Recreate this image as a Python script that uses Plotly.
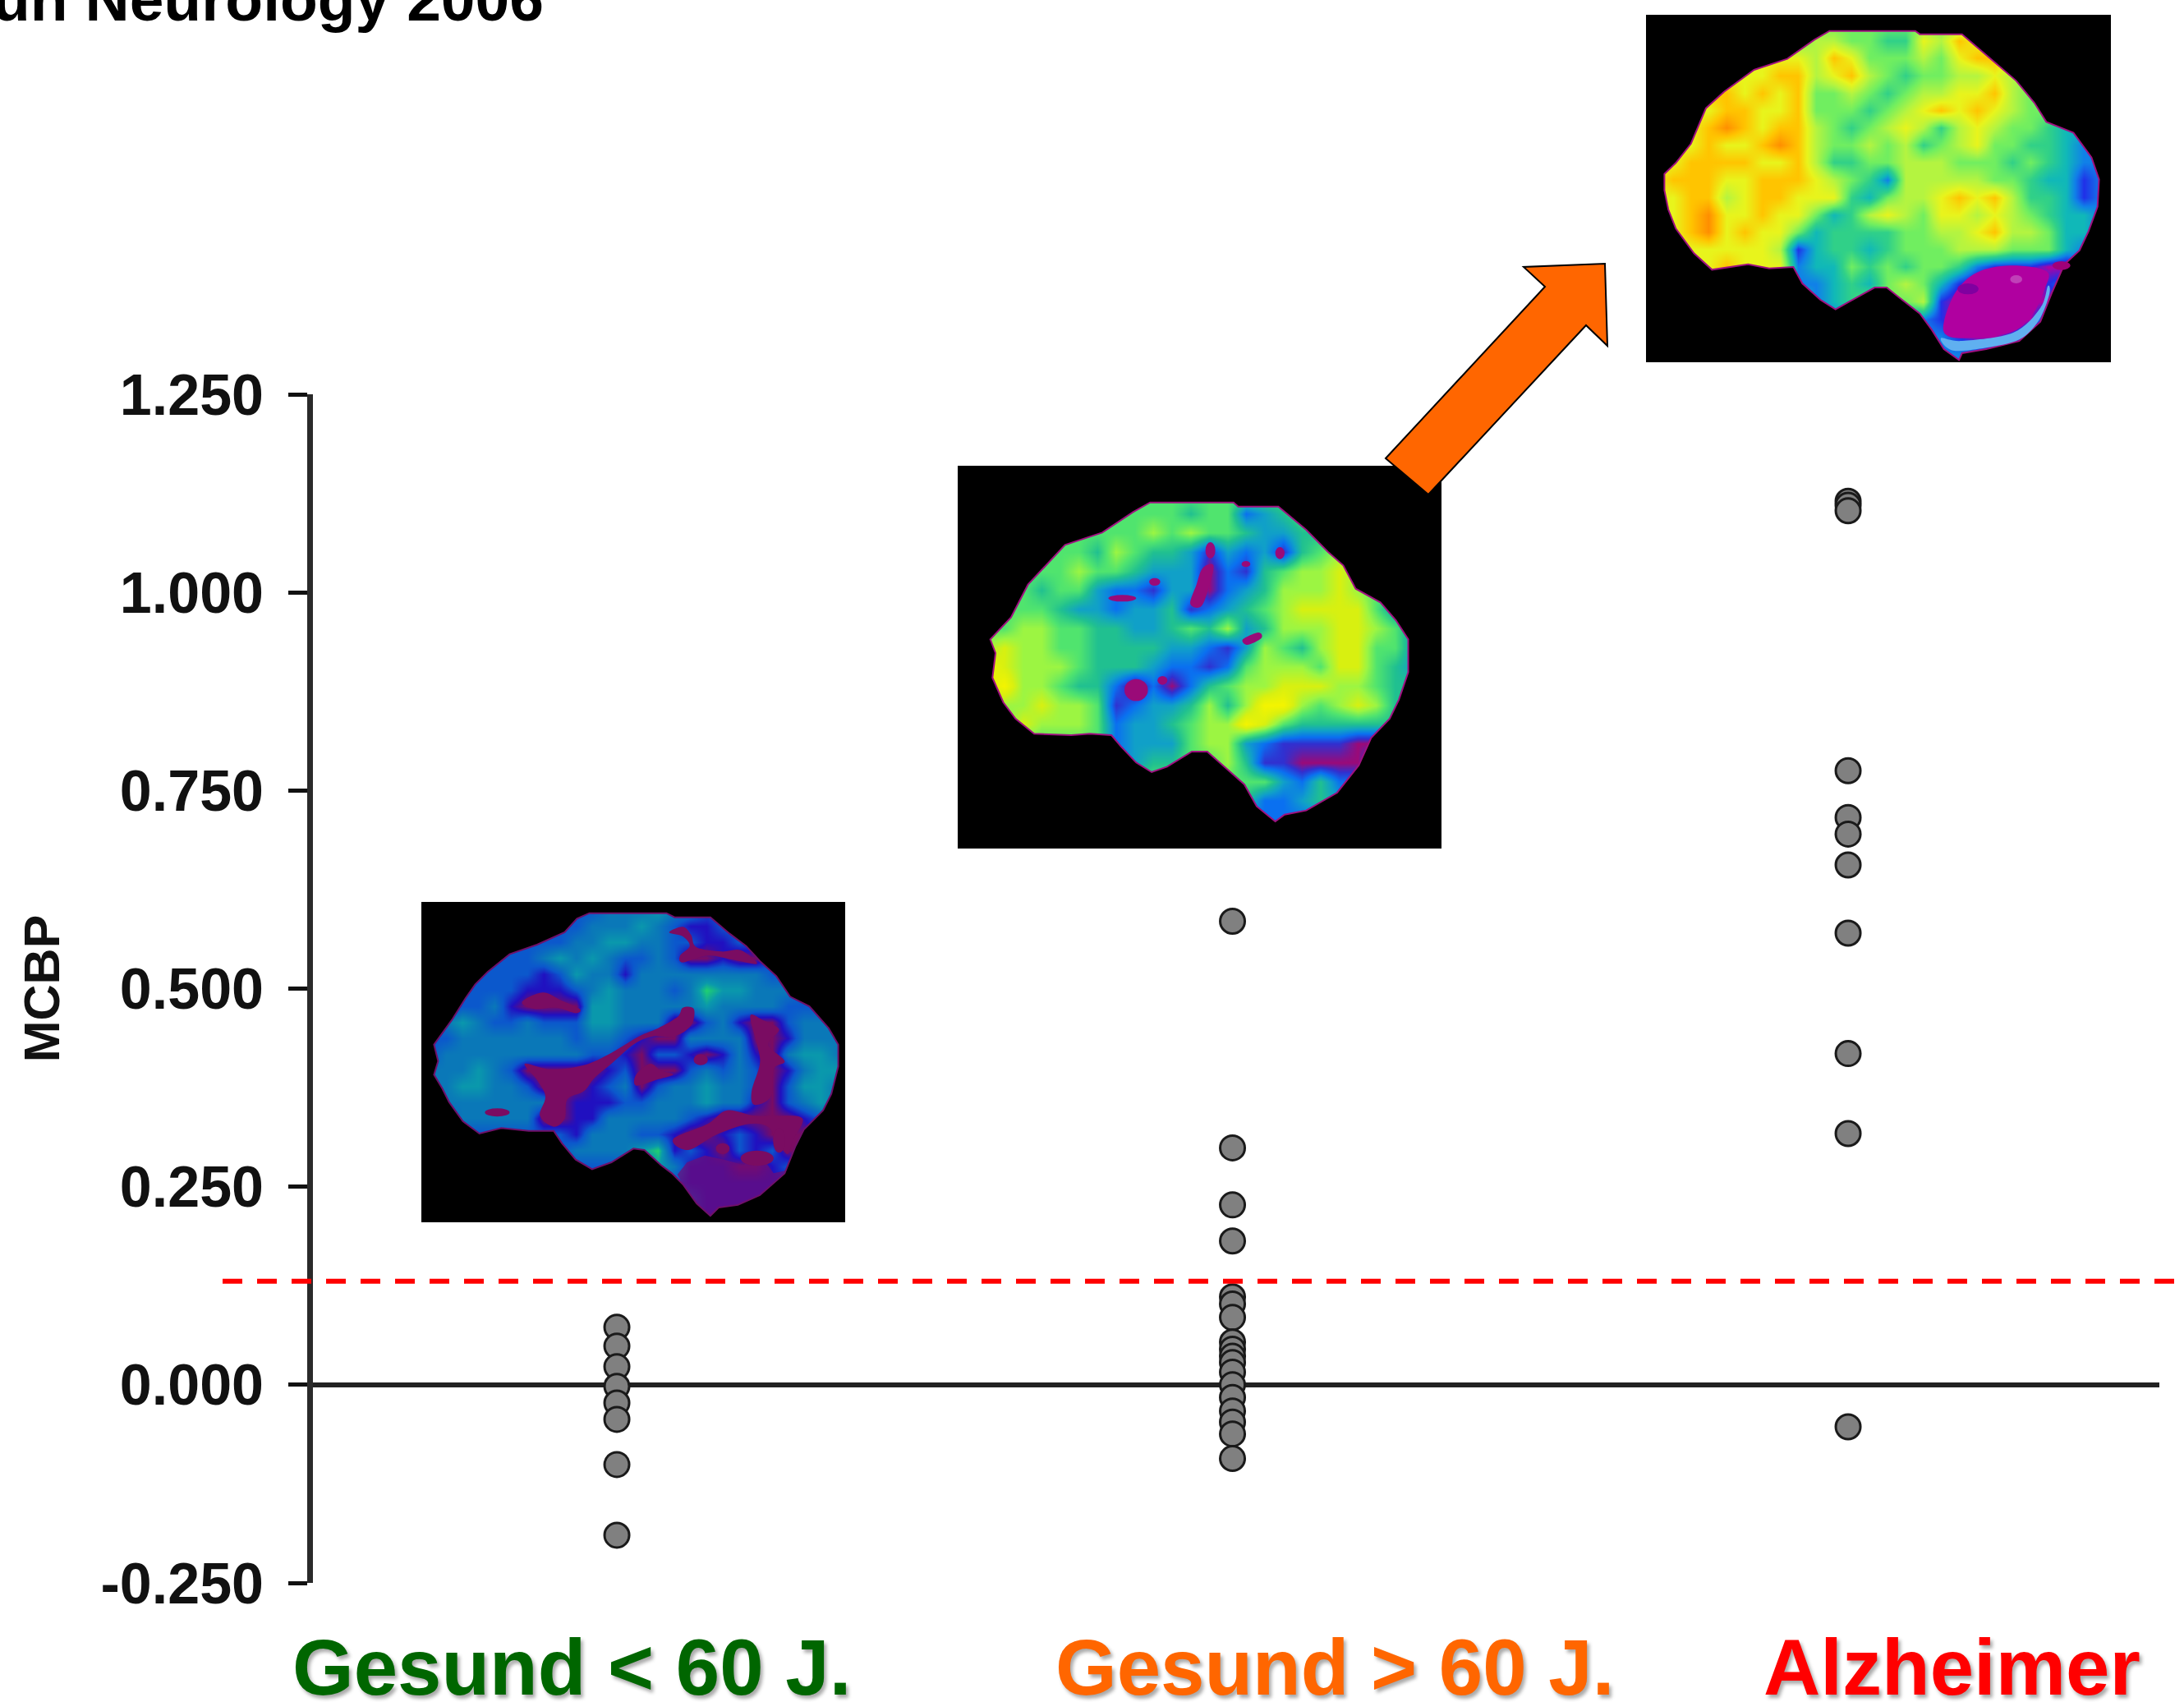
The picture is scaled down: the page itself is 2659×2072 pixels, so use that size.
import plotly.graph_objects as go

# ---------- data ----------
categories = ["Gesund < 60 J.", "Gesund > 60 J.", "Alzheimer"]
category_labels = ["Gesund &lt; 60 J.", "Gesund &gt; 60 J.", "Alzheimer"]
category_colors = ["#006600", "#FF6600", "#FF0000"]

young_values = [0.0726, 0.0487, 0.0228, -0.002, -0.023, -0.0436, -0.1006, -0.1898]
old_values = [0.585, 0.299, 0.227, 0.1815, 0.111, 0.102, 0.085, 0.054, 0.045, 0.036, 0.028,
              0.016, 0.0, -0.016, -0.033, -0.047, -0.062, -0.093]
alz_values = [1.115, 1.11, 1.103, 0.775, 0.716, 0.695, 0.656, 0.57, 0.418, 0.317, -0.053]

tick_values = [-0.25, 0.0, 0.25, 0.5, 0.75, 1.0, 1.25]
tick_labels = ["-0.250", "0.000", "0.250", "0.500", "0.750", "1.000", "1.250"]
cutoff = 0.1307

# PET brain pictures, read cell by cell as colour levels (one digit per cell)
young_brain_levels = [
    "22222 22222 23334 33222 222222", "22222 22222 33343 21122 222222", "22222 22223 34433 22112 222222",
    "22222 22343 43223 20010 022222", "22222 22124 33133 33333 322222", "23222 21112 34333 23544 333222",
    "21223 10000 44333 33433 332222", "23432 23222 44333 00231 002333", "22333 33332 33210 03333 001333",
    "23333 33333 22102 21013 103443", "33343 20000 01200 02323 201344", "33443 32000 12302 33433 202443",
    "23333 33301 11223 33433 102343", "22333 33001 13333 32100 000122", "22222 22221 33322 10012 100022",
    "22222 22223 33345 12102 120022", "22222 22222 22224 31110 012222", "22222 22222 22222 21111 111222",
    "22222 22222 22222 22111 111222", "22222 22222 22222 22111 111222",
]
old_brain_levels = [
    "55555 55555 55555 55555 555555", "55555 55555 55555 55555 555555", "55555 55555 55455 23455 555555",
    "55555 55555 65655 43344 555555", "55555 55465 44313 23145 655555", "55555 56554 33302 14566 765555",
    "55554 55322 13302 34666 765555", "55555 43323 34123 45677 775333", "55566 55443 34546 34666 776533",
    "56766 55444 43321 36546 775533", "58766 65444 32212 56665 775433", "57866 54420 20245 66777 665443",
    "55667 66512 33464 68865 676444", "55576 66523 34566 87544 444455", "55555 55523 33566 32111 100055",
    "55555 55523 44556 41100 003555", "55555 55555 55555 55324 225555", "55555 55555 55555 42234 355555",
    "22222 22222 22222 22222 222222", "22222 22222 22222 22222 222222",
]
alz_brain_levels = [
    "55555 55555 55555 55555 555555", "55555 55556 65544 76877 555555", "77777 77776 87555 65788 755555",
    "77777 77886 78654 55667 655555", "77788 78785 56545 66778 655555", "77778 87785 55456 78787 655555",
    "77789 87886 54567 64676 554333", "77787 78986 55656 45675 544322", "77888 87786 44556 66555 454322",
    "78887 78887 65426 66665 543312", "77886 78877 74356 67878 644312", "77897 78775 34676 57767 654332",
    "77897 87753 44445 56678 665332", "77777 77613 44345 55666 555322", "77778 77723 35454 55421 110022",
    "77777 77722 34356 53100 001222", "55555 55552 34555 61000 000322", "22222 22222 22222 21000 003222",
    "22222 22222 22222 22100 122222", "22222 22222 22222 22222 222222",
]
young_palette = ["#7A0C62", "#2010C0", "#0B58CC", "#0A78B8", "#0A98AC", "#20D070"]
old_palette = ["#9A0A78", "#3030D0", "#0A70F0", "#10A0C8", "#20C090", "#50E46E", "#9CF542", "#D8F010", "#F4F400"]
alz_palette = ["#B000A0", "#2030E8", "#1080E8", "#10B8B8", "#30D088", "#70EE60", "#B4F440", "#E8F41C", "#FFC400", "#FF8E00"]

# ---------- page geometry ----------
W, H = 2659, 2072
L, R, T, B = 381, 2629, 480, 1927


def px(x):
    return x / W


def py(y):
    return 1 - y / H


shapes = []


def add_path(path, fill, line=None, lw=0):
    shapes.append(dict(type="path", xref="paper", yref="paper", path=path, fillcolor=fill,
                       line=dict(color=line or fill, width=lw), layer="above"))


def ring(points):
    return "M" + " L".join(f"{px(x):.5f},{py(y):.5f}" for x, y in points) + " Z"


def poly(points, fill, line=None, lw=0):
    add_path(ring(points), fill, line, lw)


def smooth(points, fill):
    n = len(points)
    p = f"M{px(points[0][0]):.5f},{py(points[0][1]):.5f}"
    for i in range(n):
        a, b, c, d = points[i - 1], points[i], points[(i + 1) % n], points[(i + 2) % n]
        c1 = (b[0] + (c[0] - a[0]) / 6, b[1] + (c[1] - a[1]) / 6)
        c2 = (c[0] - (d[0] - b[0]) / 6, c[1] - (d[1] - b[1]) / 6)
        p += (f" C{px(c1[0]):.5f},{py(c1[1]):.5f} {px(c2[0]):.5f},{py(c2[1]):.5f} "
              f"{px(c[0]):.5f},{py(c[1]):.5f}")
    add_path(p + " Z", fill)


def ell(cx, cy, rx, ry, fill):
    shapes.append(dict(type="circle", xref="paper", yref="paper", x0=px(cx - rx), x1=px(cx + rx),
                       y0=py(cy - ry), y1=py(cy + ry), fillcolor=fill, line=dict(width=0),
                       layer="above"))


class Brain:
    """Draws in the pixel space of a zoomed crop."""

    def __init__(self, ox, oy, sx, sy):
        self.ox, self.oy, self.sx, self.sy = ox, oy, sx, sy

    def t(self, pts):
        return [(self.ox + x / self.sx, self.oy + y / self.sy) for x, y in pts]

    def mask(self, box, pts, edge):
        x0, y0, x1, y1 = box
        outer = ring([(x0, y0), (x0, y1), (x1, y1), (x1, y0)])
        add_path(outer + " " + ring(self.t(pts)), "#000000")
        add_path(ring(self.t(pts)), "rgba(0,0,0,0)", edge, 2)

    def blob(self, pts, fill):
        smooth(self.t(pts), fill)

    def e(self, cx, cy, rx, ry, fill):
        ell(self.ox + cx / self.sx, self.oy + cy / self.sy, rx / self.sx, ry / self.sy, fill)


# ---------- red cut-off ----------
shapes.append(dict(type="line", xref="paper", yref="y", x0=px(271), x1=px(2659), y0=cutoff, y1=cutoff,
                   line=dict(color="#FF0000", width=6, dash="24px,18px"), layer="above"))

# ---------- brain 1 (young) ----------
b = Brain(510, 1095, 2.987, 3)
b.mask((513, 1098, 1029, 1488),
       [(55, 530), (120, 440), (170, 360), (205, 310), (250, 265), (330, 200), (430, 165), (530, 120),
        (575, 70), (620, 50), (900, 50), (930, 65), (1060, 65), (1130, 125), (1190, 170), (1240, 225),
        (1300, 280), (1350, 355), (1420, 390), (1490, 470), (1525, 530), (1525, 610), (1500, 710),
        (1470, 770), (1400, 840), (1370, 900), (1330, 1000), (1240, 1080), (1160, 1115), (1090, 1125),
        (1060, 1155), (1010, 1110), (960, 1040), (920, 1000), (880, 970), (820, 915), (780, 910),
        (700, 960), (630, 985), (570, 950), (520, 890), (490, 845), (400, 845), (300, 835), (220, 855),
        (160, 810), (110, 740), (85, 690), (55, 640), (70, 590)], "#70106A")
MA = "#7A0C62"
b.blob([(375, 375), (450, 340), (520, 370), (585, 400), (570, 415), (500, 395), (420, 400)], MA)
b.blob([(385, 600), (480, 620), (600, 605), (700, 560), (800, 500), (870, 470), (940, 430), (960, 395), (1000, 400),
        (990, 460), (930, 500), (850, 500), (780, 530), (700, 600), (640, 650), (600, 700), (540, 730), (530, 800),
        (490, 830), (440, 790), (460, 720), (430, 660)], MA)
b.blob([(790, 640), (840, 600), (880, 625), (925, 640), (860, 660), (790, 680)], MA)
b.e(1025, 585, 26, 20, MA)
b.blob([(910, 120), (960, 100), (990, 130), (1010, 175), (1100, 190), (1170, 185), (1230, 235), (1140, 220), (1050, 205),
        (960, 230), (950, 205), (985, 170), (960, 135)], MA)
b.blob([(1205, 425), (1250, 440), (1310, 475), (1270, 530), (1330, 590), (1290, 620), (1280, 720), (1220, 750), (1210, 700),
        (1240, 600), (1230, 530)], MA)
b.blob([(925, 875), (1050, 820), (1120, 770), (1220, 790), (1300, 790), (1395, 800), (1360, 880), (1340, 930), (1300, 880),
        (1270, 830), (1200, 820), (1080, 860), (980, 915)], MA)
poly(b.t([(940, 1005), (975, 960), (1040, 935), (1110, 950), (1180, 970), (1240, 930), (1290, 1000), (1335, 990),
          (1240, 1078), (1160, 1113), (1090, 1123), (1060, 1152), (1010, 1108), (960, 1040)]), "rgba(110,12,120,0.72)")
for args in [(1105, 910, 25, 20, MA), (1230, 945, 60, 28, MA), (1310, 880, 22, 45, MA), (285, 778, 45, 15, MA)]:
    b.e(*args)

# ---------- brain 2 (old) ----------
b = Brain(1165, 565, 2.657, 3)
b.mask((1166, 567, 1755, 1033),
       [(108, 640), (175, 560), (230, 440), (350, 295), (470, 250), (570, 175), (625, 140), (895, 140), (910, 155),
        (1040, 155), (1130, 240), (1200, 320), (1250, 370), (1290, 455), (1370, 505), (1420, 570), (1460, 640),
        (1460, 760), (1430, 860), (1400, 930), (1340, 1000), (1300, 1100), (1230, 1200), (1130, 1265), (1060, 1280),
        (1030, 1305), (970, 1250), (930, 1170), (870, 1110), (810, 1050), (760, 1050), (680, 1105), (630, 1125),
        (580, 1090), (530, 1030), (500, 990), (430, 985), (370, 990), (250, 985), (190, 930), (150, 870), (115, 780),
        (125, 690)], "#A01080")
MB = "#9A0A78"
for args in [(820, 315, 16, 30, MB), (535, 490, 45, 12, MB), (640, 430, 18, 14, MB), (1045, 325, 15, 22, MB), (935, 365, 14, 11, MB),
             (580, 825, 38, 40, MB), (665, 790, 16, 16, MB)]:
    b.e(*args)
b.blob([(795, 380), (830, 370), (815, 450), (790, 520), (755, 510), (775, 440)], MB)
b.blob([(925, 640), (975, 615), (985, 635), (940, 660)], MB)

# ---------- brain 3 (Alzheimer) ----------
b = Brain(2000, 15, 2.727, 3)
b.mask((2004, 18, 2570, 441),
       [(72, 590), (110, 550), (160, 480), (210, 350), (270, 290), (370, 210), (480, 170), (570, 100), (620, 68), (905, 68),
        (920, 80), (1060, 80), (1150, 165), (1240, 250), (1300, 330), (1340, 400), (1430, 440), (1490, 530), (1515, 610),
        (1510, 710), (1480, 800), (1450, 870), (1400, 920), (1360, 1020), (1320, 1130), (1250, 1200), (1140, 1230), (1060, 1245),
        (1050, 1270), (1000, 1230), (960, 1160), (920, 1100), (850, 1040), (810, 1005), (770, 1005), (680, 1060), (640, 1085),
        (590, 1050), (530, 990), (500, 930), (420, 935), (350, 920), (230, 940), (170, 880), (110, 790), (85, 720), (72, 650)],
       "#A01080")
b.blob([(990, 1190), (1060, 1200), (1230, 1170), (1320, 1080), (1345, 1000), (1350, 1030), (1315, 1125), (1250, 1195), (1140, 1225), (1030, 1235)], "#60B0F0")
b.blob([(1000, 1130), (1040, 1020), (1110, 950), (1220, 925), (1340, 945), (1335, 1010), (1290, 1110), (1220, 1170), (1080, 1190), (1010, 1180)], "#B000A0")
b.e(1390, 925, 30, 16, "#A00078")
b.e(1240, 975, 20, 15, "#C040B8")
b.e(1080, 1010, 35, 20, "#8000A0")

# ---------- arrow ----------
poly([(1687, 558), (1739, 602), (1931, 396), (1957, 421), (1954, 321), (1855, 325), (1881, 349)], "#FF6600", "#000000", 2)

# ---------- traces ----------
fig = go.Figure()


def parse(rows):
    return [[int(ch) for ch in row.replace(" ", "")] for row in rows]


def scale(palette):
    return [[i / (len(palette) - 1), c] for i, c in enumerate(palette)]


hidden = dict(visible=False, showgrid=False, zeroline=False)
layout_axes = {}
for n, levels, palette, box in [
    (2, young_brain_levels, young_palette, (513, 1098, 1029, 1488)),
    (3, old_brain_levels, old_palette, (1166, 567, 1755, 1033)),
    (4, alz_brain_levels, alz_palette, (2004, 18, 2570, 441)),
]:
    z = parse(levels)
    fig.add_trace(go.Heatmap(z=z, xaxis=f"x{n}", yaxis=f"y{n}", zsmooth="best", showscale=False, hoverinfo="skip",
                             colorscale=scale(palette), zmin=0, zmax=len(palette) - 1))
    layout_axes[f"xaxis{n}"] = dict(domain=[px(box[0]), px(box[2])], anchor=f"y{n}", range=[-0.5, len(z[0]) - 0.5], **hidden)
    layout_axes[f"yaxis{n}"] = dict(domain=[py(box[3]), py(box[1])], anchor=f"x{n}", range=[len(z) - 0.5, -0.5], **hidden)

for name, values in zip(categories, [young_values, old_values, alz_values]):
    fig.add_trace(go.Scatter(x=[name] * len(values), y=values, mode="markers", name=name, showlegend=False,
                             cliponaxis=False,
                             marker=dict(size=30, color="#808080", line=dict(color="#1a1a1a", width=3))))

# ---------- text ----------
FONT = "Liberation Sans"
annotations = [dict(text="<b>un Neurology 2006</b>", xref="paper", yref="paper", x=px(664), y=py(43), xanchor="right",
                    yanchor="bottom", showarrow=False, font=dict(family=FONT, size=75, color="#000000"))]
for text, color, cx in zip(category_labels, category_colors, [696, 1625, 2376]):
    annotations.append(dict(text=f"<b>{text}</b>", xref="paper", yref="paper", x=px(cx), y=py(2085), xanchor="center",
                            yanchor="bottom", showarrow=False,
                            font=dict(family=FONT, size=96, color=color, shadow="3px 4px 4px #aaaaaa")))

fig.update_layout(
    width=W, height=H, autosize=False, margin=dict(l=0, r=0, t=0, b=0, pad=0, autoexpand=False),
    paper_bgcolor="#ffffff", plot_bgcolor="#ffffff", showlegend=False,
    font=dict(family=FONT, color="#111111"), shapes=shapes, annotations=annotations,
    xaxis=dict(domain=[px(L), px(R)], type="category", categoryorder="array", categoryarray=categories,
               range=[-0.4937, 2.5056], showgrid=False, zeroline=False, showline=False, showticklabels=False, ticks=""),
    yaxis=dict(domain=[py(B), py(T)], range=[-0.25, 1.25], tickvals=tick_values, ticktext=[f"<b>{t}</b>" for t in tick_labels],
               tickfont=dict(family=FONT, size=70, color="#111111"), ticks="outside", ticklen=23, tickwidth=5,
               tickcolor="#111111", showline=True, linewidth=7, linecolor="#2a2a2a", showgrid=False,
               zeroline=True, zerolinewidth=6, zerolinecolor="#222222", ticklabelstandoff=16,
               title=dict(text="<b>MCBP</b>", font=dict(family=FONT, size=61, color="#111111"), standoff=33)),
    **layout_axes,
)

fig.write_html("out.html", config={"displayModeBar": False},
               post_script="document.body.style.margin='0';document.documentElement.style.overflow='hidden';")
